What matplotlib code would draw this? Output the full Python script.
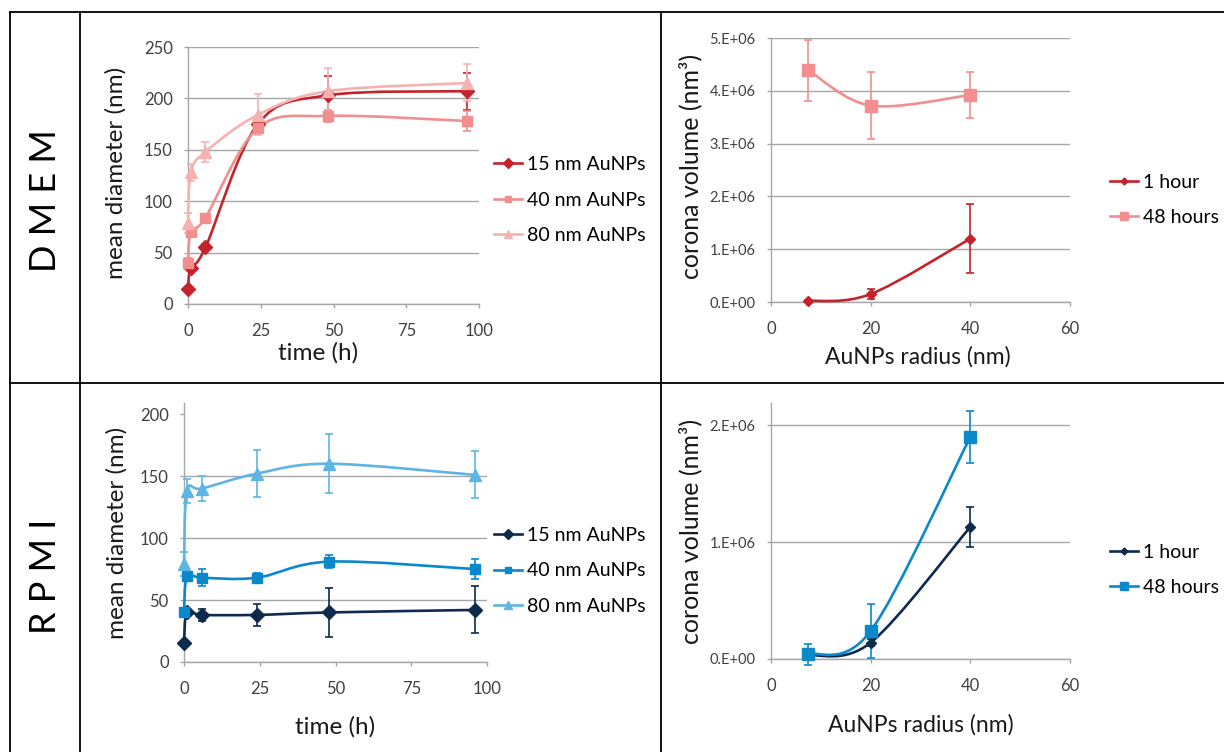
import numpy as np
import matplotlib
matplotlib.use("Agg")
import matplotlib.pyplot as plt
from matplotlib.path import Path
from matplotlib.patches import PathPatch
from matplotlib.lines import Line2D

plt.rcParams['font.family'] = ['Lato', 'DejaVu Sans']

W, H = 1224, 752

# ---- data ----
t_hours = [0, 1, 6, 24, 48, 96]
nps_labels = ["15 nm AuNPs", "40 nm AuNPs", "80 nm AuNPs"]

dmem_15 = [15, 35, 55, 175, 203, 207]
dmem_15_err = [0, 3, 3, 4, 19, 18]
dmem_40 = [40, 70, 84, 171, 183, 178]
dmem_40_err = [5, 3, 3, 3, 6, 10]
dmem_80 = [79, 128, 148, 184, 207, 215]
dmem_80_err = [10, 8, 10, 20, 23, 18]

rpmi_15 = [15, 40, 38, 38, 40, 42]
rpmi_15_err = [0, 3, 5, 9, 20, 19]
rpmi_40 = [40, 69, 68, 68, 81, 75]
rpmi_40_err = [3, 3, 7, 4, 5, 8]
rpmi_80 = [79, 138, 140, 152, 160, 151]
rpmi_80_err = [10, 10, 10, 19, 24, 19]

radius = [7.5, 20, 40]
time_labels = ["1 hour", "48 hours"]
dmem_vol_1h = [0.02e6, 0.15e6, 1.2e6]
dmem_vol_1h_err = [0.02e6, 0.1e6, 0.65e6]
dmem_vol_48h = [4.39e6, 3.72e6, 3.92e6]
dmem_vol_48h_err = [0.58e6, 0.63e6, 0.44e6]
rpmi_vol_1h = [0.03e6, 0.14e6, 1.13e6]
rpmi_vol_1h_err = [0.01e6, 0.03e6, 0.17e6]
rpmi_vol_48h = [0.04e6, 0.24e6, 1.9e6]
rpmi_vol_48h_err = [0.09e6, 0.23e6, 0.22e6]

dmem_vol_ticks = [0, 1e6, 2e6, 3e6, 4e6, 5e6]
dmem_vol_ticklabels = ["0.E+00", "1.E+06", "2.E+06", "3.E+06", "4.E+06", "5.E+06"]
rpmi_vol_ticks = [0, 1e6, 2e6]
rpmi_vol_ticklabels = ["0.E+00", "1.E+06", "2.E+06"]

red_dark, red_mid, red_light = "#C5232B", "#F28E8E", "#F6B1B1"
blue_dark, blue_mid, blue_light = "#0E2A4D", "#0A88CC", "#5DB5E4"

fig = plt.figure(figsize=(W / 100, H / 100), dpi=100)


def px_axes(x0, x1, y_top, y_bottom):
    return fig.add_axes([x0 / W, 1 - y_bottom / H, (x1 - x0) / W, (y_bottom - y_top) / H])


def ftext(x, y, s, **kw):
    fig.text(x / W, 1 - y / H, s, ha="center", va="center", **kw)


def smooth_path(x, y):
    # Excel-like smoothed line: Bezier segments through the points
    pts = np.column_stack([x, y]).astype(float)
    n = len(pts)
    verts = [pts[0]]
    codes = [Path.MOVETO]
    for i in range(n - 1):
        p0 = pts[i - 1] if i > 0 else pts[i]
        p1, p2 = pts[i], pts[i + 1]
        p3 = pts[i + 2] if i + 2 < n else pts[i + 1]
        verts += [p1 + (p2 - p0) / 6, p2 - (p3 - p1) / 6, p2]
        codes += [Path.CURVE4] * 3
    return Path(verts, codes)


def draw_series(ax, x, y, err, color, marker, ms, label):
    ax.add_patch(PathPatch(smooth_path(x, y), facecolor="none", edgecolor=color,
                           lw=1.9, zorder=3, clip_on=False))
    ax.errorbar(x, y, yerr=err, fmt="none", ecolor=color, elinewidth=1.2,
                capsize=3, capthick=1.2, zorder=3, clip_on=False)
    ax.plot(x, y, ls="none", marker=marker, ms=ms, color=color, zorder=4, clip_on=False)
    return Line2D([], [], color=color, lw=1.9, marker=marker, ms=ms * 0.7, label=label)


def style_axes(ax, xlim, xticks, ylim, yticks, yticklabels=None, ysize=12, xsize=12):
    ax.set_xlim(*xlim)
    ax.set_ylim(*ylim)
    ax.set_xticks(xticks)
    ax.set_yticks(yticks)
    if yticklabels is not None:
        ax.set_yticklabels(yticklabels)
    for s in ["top", "right"]:
        ax.spines[s].set_visible(False)
    for s in ["left", "bottom"]:
        ax.spines[s].set_color("#A6A6A6")
        ax.spines[s].set_linewidth(1)
    ax.tick_params(axis="both", colors="#A6A6A6", labelcolor="#404040",
                   length=3, width=1, direction="out")
    ax.tick_params(axis="x", pad=11, labelsize=xsize)
    ax.tick_params(axis="y", pad=8, labelsize=ysize)
    ax.yaxis.grid(True, color="#A6A6A6", lw=1)
    ax.set_axisbelow(True)


def add_legend(handles, x, y):
    fig.legend(handles=handles, loc="center left", bbox_to_anchor=(x / W, 1 - y / H),
               frameon=False, fontsize=14, handlelength=1.45, handletextpad=0.25,
               labelspacing=0.95, borderaxespad=0, borderpad=0)


# ---- DMEM diameter ----
ax1 = px_axes(188, 479, 47, 304)
style_axes(ax1, (0, 100), [0, 25, 50, 75, 100], (0, 250), [0, 50, 100, 150, 200, 250])
h = [draw_series(ax1, t_hours, dmem_15, dmem_15_err, red_dark, "D", 7, nps_labels[0]),
     draw_series(ax1, t_hours, dmem_40, dmem_40_err, red_mid, "s", 7, nps_labels[1]),
     draw_series(ax1, t_hours, dmem_80, dmem_80_err, red_light, "^", 8, nps_labels[2])]
add_legend(h, 494, 200)

# ---- DMEM corona volume ----
ax2 = px_axes(771, 1070, 38, 302)
style_axes(ax2, (0, 60), [0, 20, 40, 60], (0, 5e6), dmem_vol_ticks, dmem_vol_ticklabels,
           ysize=10.5)
h = [draw_series(ax2, radius, dmem_vol_1h, dmem_vol_1h_err, red_dark, "D", 5, time_labels[0]),
     draw_series(ax2, radius, dmem_vol_48h, dmem_vol_48h_err, red_mid, "s", 8, time_labels[1])]
add_legend(h, 1110, 200)

# ---- RPMI diameter ----
ax3 = px_axes(184, 487, 403, 662)
style_axes(ax3, (0, 100), [0, 25, 50, 75, 100], (0, 209), [0, 50, 100, 150, 200])
ax3.yaxis.get_gridlines()[-1].set_visible(False)
h = [draw_series(ax3, t_hours, rpmi_15, rpmi_15_err, blue_dark, "D", 7, nps_labels[0]),
     draw_series(ax3, t_hours, rpmi_40, rpmi_40_err, blue_mid, "s", 7, nps_labels[1]),
     draw_series(ax3, t_hours, rpmi_80, rpmi_80_err, blue_light, "^", 8, nps_labels[2])]
add_legend(h, 494, 571)

# ---- RPMI corona volume ----
ax4 = px_axes(771, 1070, 403, 659)
style_axes(ax4, (0, 60), [0, 20, 40, 60], (0, 2.19e6), rpmi_vol_ticks, rpmi_vol_ticklabels,
           ysize=10.5)
h = [draw_series(ax4, radius, rpmi_vol_1h, rpmi_vol_1h_err, blue_dark, "D", 5, time_labels[0]),
     draw_series(ax4, radius, rpmi_vol_48h, rpmi_vol_48h_err, blue_mid, "s", 8, time_labels[1])]
add_legend(h, 1110, 570)

# ---- axis titles ----
col = "#1a1a1a"
ftext(116, 173, "mean diameter (nm)", rotation=90, fontsize=17.5, color=col)
ftext(318, 353, "time (h)", fontsize=17.5, color=col)
ftext(690, 166, "corona volume (nm³)", rotation=90, fontsize=18, color=col)
ftext(918, 357, "AuNPs radius (nm)", fontsize=16.5, color=col)
ftext(117, 533, "mean diameter (nm)", rotation=90, fontsize=17.5, color=col)
ftext(335, 727, "time (h)", fontsize=17.5, color=col)
ftext(690, 531, "corona volume (nm³)", rotation=90, fontsize=18, color=col)
ftext(921, 725, "AuNPs radius (nm)", fontsize=16.5, color=col)

# ---- row labels ----
ftext(46, 201, "D M E M", rotation=90, fontsize=26, color="black")
ftext(46, 576, "R P M I", rotation=90, fontsize=26, color="black")

# ---- table lines ----
def hline(y, x0, x1):
    fig.add_artist(Line2D([x0 / W, x1 / W], [1 - y / H, 1 - y / H], color="black", lw=1.3))


def vline(x, y0, y1):
    fig.add_artist(Line2D([x / W, x / W], [1 - y0 / H, 1 - y1 / H], color="black", lw=1.3))


hline(12, 10, W)
hline(383, 10, W)
vline(10, 12, H)
vline(80, 12, H)
vline(661, 12, H)

fig.savefig("out.png", dpi=100)
